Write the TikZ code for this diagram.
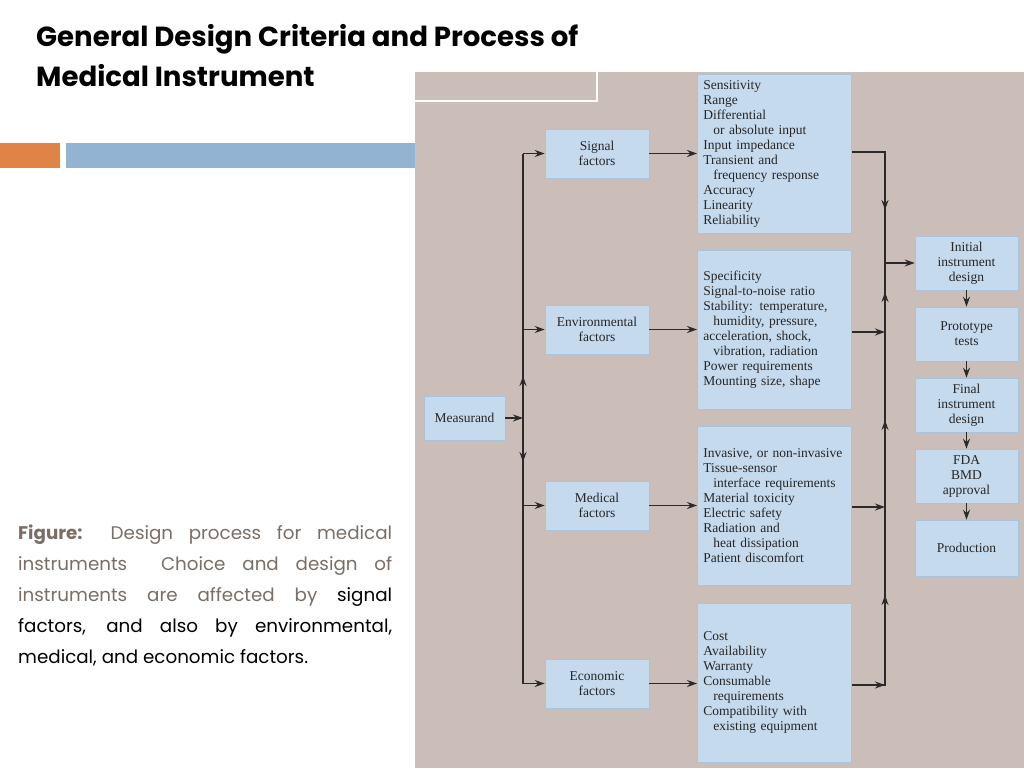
\documentclass[tikz,border=0pt]{standalone}
\usepackage{fontspec}
\setmainfont{Liberation Serif}
\newfontfamily\titlefont{Poppins}
\usetikzlibrary{arrows.meta}
\definecolor{bg}{HTML}{CBBDB7}
\definecolor{bfill}{HTML}{C6DAEE}
\definecolor{bline}{HTML}{A9C3DD}
\definecolor{orng}{HTML}{DF8446}
\definecolor{barblue}{HTML}{93B3D2}
\definecolor{capgray}{HTML}{7A6E66}
\definecolor{ln}{HTML}{2A2A2A}
\tikzset{
 bx/.style={draw=bline,fill=bfill,line width=0.6pt,inner sep=0pt,align=center,font=\fontsize{13.5}{15}\selectfont,text=black!85},
 big/.style={bx,align=left,text width=142pt,inner xsep=6pt,anchor=north west},
 wire/.style={draw=ln,line width=1.4pt},
 arr/.style={wire,-{Stealth[length=10pt,width=7pt]}}
}
\newcommand{\ind}{\hspace*{10pt}}
\begin{document}
\begin{tikzpicture}[x=1pt,y=-1pt]
\useasboundingbox (0,0) rectangle (1024,768);
\fill[white] (0,0) rectangle (1024,768);
% title
\node[anchor=base west,inner sep=0,font=\titlefont\bfseries\fontsize{27.6}{30}\selectfont] (t1) at (36,47) {General Design Criteria and Process of};
\node[anchor=base west,inner sep=0,font=\titlefont\bfseries\fontsize{27.6}{30}\selectfont] (t2) at (36,86) {Medical Instrument};
% bars
\fill[orng] (0,143) rectangle (60,168);
\fill[barblue] (66,143) rectangle (415,168);
% background image region
\fill[bg] (415,72) rectangle (1024,768);
\draw[white,line width=1.2pt] (415,101) -- (597,101) -- (597,72);
% caption
\node[anchor=north west,inner sep=0,text width=374pt,align=justify,font=\titlefont\fontsize{18.3}{30.8}\selectfont,text=capgray] (cap) at (18,525)
{\textbf{Figure:} Design process for medical\linebreak instruments\ \ Choice and design of\linebreak instruments are affected by \textcolor{black}{signal\linebreak factors, and also by environmental,\linebreak medical, and economic factors.}};
% left boxes
\node[bx,minimum width=81pt,minimum height=44pt] (meas) at (464.5,418) {Measurand};
\node[bx,minimum width=104pt,minimum height=49pt] (sig) at (597,153.5) {Signal\\factors};
\node[bx,minimum width=104pt,minimum height=49pt] (env) at (597,329.5) {Environmental\\factors};
\node[bx,minimum width=104pt,minimum height=49pt] (med) at (597,505.5) {Medical\\factors};
\node[bx,minimum width=104pt,minimum height=49pt] (eco) at (597,683.5) {Economic\\factors};
% big boxes
\node[big,minimum height=159pt] (b1) at (697,74) {Sensitivity\\Range\\Differential\\\ind or absolute input\\Input impedance\\Transient and\\\ind frequency response\\Accuracy\\Linearity\\Reliability};
\node[big,minimum height=159pt] (b2) at (697,250) {Specificity\\Signal-to-noise ratio\\Stability: temperature,\\\ind humidity, pressure,\\acceleration, shock,\\\ind vibration, radiation\\Power requirements\\Mounting size, shape};
\node[big,minimum height=159pt] (b3) at (697,426) {Invasive, or non-invasive\\Tissue-sensor\\\ind interface requirements\\Material toxicity\\Electric safety\\Radiation and\\\ind heat dissipation\\Patient discomfort};
\node[big,minimum height=159pt] (b4) at (697,603) {Cost\\Availability\\Warranty\\Consumable\\\ind requirements\\Compatibility with\\\ind existing equipment};
% right boxes
\node[bx,minimum width=103pt,minimum height=54pt] (r1) at (966.5,263) {Initial\\instrument\\design};
\node[bx,minimum width=103pt,minimum height=54pt] (r2) at (966.5,334) {Prototype\\tests};
\node[bx,minimum width=103pt,minimum height=54pt] (r3) at (966.5,405) {Final\\instrument\\design};
\node[bx,minimum width=103pt,minimum height=54pt] (r4) at (966.5,476) {FDA\\BMD\\approval};
\node[bx,minimum width=103pt,minimum height=56pt] (r5) at (966.5,548) {Production};
% left bus
\coordinate (lt) at (523,153.5);
\coordinate (lb) at (523,683.5);
\draw[wire] (lt) -- (lb);
\draw[arr] (meas.east) -- (523,418);
\draw[arr] (523,418) -- (523,376);
\draw[arr] (523,418) -- (523,462);
\draw[arr] (lt) -- (sig.west);
\draw[arr] (523,329.5) -- (env.west);
\draw[arr] (523,505.5) -- (med.west);
\draw[arr] (lb) -- (eco.west);
\draw[arr] (sig.east) -- (sig.east -| b1.west);
\draw[arr] (env.east) -- (env.east -| b2.west);
\draw[arr] (med.east) -- (med.east -| b3.west);
\draw[arr] (eco.east) -- (eco.east -| b4.west);
% right bus
\coordinate (rt) at (885,152);
\coordinate (rb) at (885,685);
\draw[wire] (b1.east |- rt) -- (rt) -- (rb) -- (b4.east |- rb);
\draw[arr] (rt) -- (885,210);
\draw[arr] (885,332) -- (885,292);
\draw[arr] (885,507) -- (885,420);
\draw[arr] (rb) -- (885,595);
\draw[arr] (b2.east |- 0,332) -- (885,332);
\draw[arr] (b3.east |- 0,507) -- (885,507);
\draw[arr] (b4.east |- rb) -- (rb);
\draw[arr] (885,263) -- (r1.west);
% chain
\draw[arr] (r1) -- (r2);
\draw[arr] (r2) -- (r3);
\draw[arr] (r3) -- (r4);
\draw[arr] (r4) -- (r5);
\end{tikzpicture}
\end{document}
